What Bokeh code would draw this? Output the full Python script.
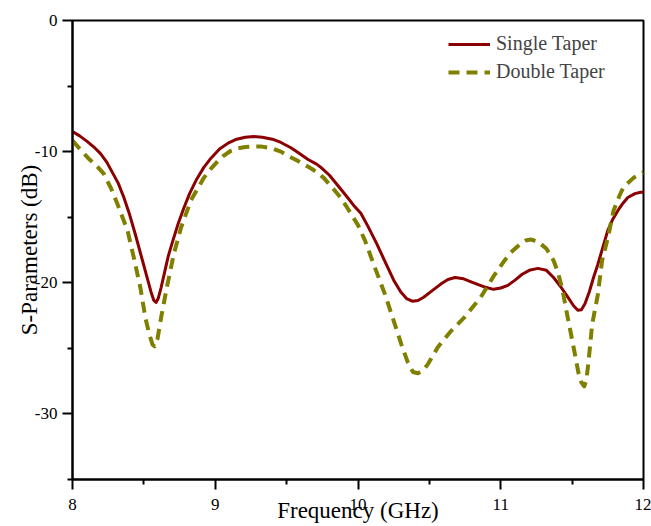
from bokeh.plotting import figure
from bokeh.models import Legend, LegendItem, FixedTicker
from bokeh.embed import file_html
from bokeh.resources import INLINE

# Frequency (GHz) and S-parameter (dB) samples for each antenna variant
single_freq = [8.0, 8.05, 8.1, 8.15, 8.196, 8.24, 8.28, 8.32, 8.36, 8.40, 8.44, 8.48,
               8.52, 8.55, 8.57, 8.585, 8.60, 8.62, 8.645, 8.67, 8.70, 8.74, 8.78, 8.82,
               8.87, 8.92, 8.97, 9.03, 9.09, 9.15, 9.21, 9.27, 9.33, 9.40, 9.46, 9.53,
               9.59, 9.65, 9.71, 9.74, 9.80, 9.86, 9.92, 9.97, 10.02, 10.07, 10.13,
               10.19, 10.25, 10.30, 10.34, 10.38, 10.42, 10.46, 10.52, 10.58, 10.63,
               10.68, 10.74, 10.81, 10.88, 10.95, 11.0, 11.05, 11.10, 11.15, 11.20,
               11.26, 11.32, 11.37, 11.42, 11.47, 11.51, 11.54, 11.565, 11.59, 11.62,
               11.65, 11.68, 11.715, 11.75, 11.785, 11.82, 11.855, 11.89, 11.94, 11.98,
               12.0]
single_s11 = [-8.47, -8.8, -9.2, -9.65, -10.15, -10.8, -11.6, -12.4, -13.5, -14.8, -16.3,
              -17.9, -19.5, -20.7, -21.35, -21.5, -21.2, -20.4, -19.2, -18.0, -16.9, -15.5,
              -14.3, -13.2, -12.1, -11.2, -10.5, -9.8, -9.35, -9.05, -8.9, -8.85, -8.9,
              -9.05, -9.3, -9.7, -10.15, -10.6, -10.95, -11.2, -11.8, -12.6, -13.4, -14.1,
              -14.7, -15.7, -17.0, -18.4, -19.8, -20.7, -21.2, -21.4, -21.35, -21.1, -20.6,
              -20.1, -19.75, -19.6, -19.7, -20.0, -20.3, -20.5, -20.4, -20.2, -19.8, -19.35,
              -19.05, -18.9, -19.05, -19.6, -20.3, -21.1, -21.75, -22.1, -22.05, -21.6,
              -20.7, -19.6, -18.6, -17.3, -16.0, -15.15, -14.5, -13.95, -13.5, -13.2,
              -13.1, -13.1]

double_freq = [8.0, 8.06, 8.12, 8.17, 8.22, 8.27, 8.315, 8.35, 8.385, 8.43, 8.476, 8.511,
               8.54, 8.56, 8.575, 8.595, 8.62, 8.66, 8.71, 8.76, 8.83, 8.92, 8.97, 9.02,
               9.06, 9.107, 9.16, 9.21, 9.27, 9.317, 9.37, 9.41, 9.46, 9.506, 9.56, 9.61,
               9.66, 9.716, 9.76, 9.80, 9.84, 9.877, 9.92, 9.96, 10.0, 10.05, 10.11, 10.19,
               10.25, 10.31, 10.35, 10.385, 10.42, 10.455, 10.49, 10.56, 10.65, 10.74,
               10.80, 10.86, 10.95, 11.02, 11.07, 11.14, 11.18, 11.21, 11.26, 11.32,
               11.37, 11.40, 11.43, 11.47, 11.51, 11.545, 11.565, 11.585, 11.60, 11.615,
               11.64, 11.68, 11.71, 11.75, 11.79, 11.83, 11.86, 11.93, 11.98, 12.0]
double_s11 = [-9.16, -9.9, -10.6, -11.1, -11.7, -12.8, -14.0, -15.0, -16.0, -18.1, -20.4,
              -22.7, -24.0, -24.7, -24.85, -24.3, -22.7, -20.4, -17.8, -15.8, -13.7, -12.0,
              -11.3, -10.7, -10.3, -9.95, -9.75, -9.65, -9.6, -9.6, -9.7, -9.8, -10.0,
              -10.3, -10.6, -10.9, -11.2, -11.6, -12.0, -12.5, -13.0, -13.5, -14.2, -14.9,
              -15.6, -16.8, -18.6, -20.9, -22.9, -24.9, -26.1, -26.8, -26.9, -26.7, -26.2,
              -24.9, -23.7, -22.7, -21.9, -21.1, -19.5, -18.4, -17.7, -17.0, -16.75, -16.7,
              -16.85, -17.4, -18.3, -19.2, -20.4, -22.7, -24.9, -26.9, -27.6, -27.9, -27.4,
              -26.0, -23.2, -20.9, -18.3, -16.6, -14.5, -13.4, -12.7, -12.0, -11.7, -11.6]

x_ticks = [8, 9, 10, 11, 12]
x_minor = [8.5, 9.5, 10.5, 11.5]
y_ticks = [0, -10, -20, -30]
y_minor = [-5, -15, -25, -35]

SERIF = "Liberation Serif"
RED = "#8b0000"
OLIVE = "#808000"

p = figure(width=651, height=526, x_range=(8, 12), y_range=(-35, 0),
           output_backend="svg", toolbar_location=None,
           min_border_left=72, min_border_right=8, min_border_top=20, min_border_bottom=47)

p.grid.visible = False
p.background_fill_color = "white"
p.border_fill_color = "white"
p.outline_line_color = "black"
p.outline_line_width = 2
p.outline_line_alpha = 1

r1 = p.line(single_freq, single_s11, line_color=RED, line_width=3,
            line_join="round")
r2 = p.line(double_freq, double_s11, line_color=OLIVE, line_width=4,
            line_dash="11 7", line_join="round")

for ax in (p.xaxis[0], p.yaxis[0]):
    ax.axis_line_width = 2
    ax.major_tick_line_width = 2
    ax.minor_tick_line_width = 2
    ax.major_tick_out = 10
    ax.major_tick_in = 0
    ax.minor_tick_out = 5
    ax.minor_tick_in = 0
    ax.major_label_text_font = SERIF
    ax.major_label_text_font_size = "17px"
    ax.major_label_text_color = "black"
    ax.axis_label_text_font = SERIF
    ax.axis_label_text_font_style = "normal"
    ax.axis_label_text_font_size = "23px"
    ax.axis_label_text_color = "black"

p.xaxis[0].ticker = FixedTicker(ticks=x_ticks, minor_ticks=x_minor)
p.yaxis[0].ticker = FixedTicker(ticks=y_ticks, minor_ticks=y_minor)
p.xaxis[0].major_label_overrides = {t: str(t) for t in x_ticks}
p.yaxis[0].major_label_overrides = {t: str(t) for t in y_ticks}
p.xaxis[0].major_label_standoff = 9
p.yaxis[0].major_label_standoff = 5
p.xaxis[0].axis_label = "Frequency (GHz)"
p.xaxis[0].axis_label_standoff = -15
p.yaxis[0].axis_label = "S-Parameters (dB)"
p.yaxis[0].axis_label_standoff = -10

legend = Legend(items=[LegendItem(label="Single Taper", renderers=[r1]),
                       LegendItem(label="Double Taper", renderers=[r2])],
                location=(376, 396), orientation="vertical",
                label_text_font=SERIF, label_text_font_size="20px",
                glyph_width=42, glyph_height=20, label_height=20, label_standoff=6,
                spacing=5, padding=0, margin=0,
                border_line_alpha=0, background_fill_alpha=0)
p.add_layout(legend)

open("out.html", "w").write(file_html(p, INLINE))
